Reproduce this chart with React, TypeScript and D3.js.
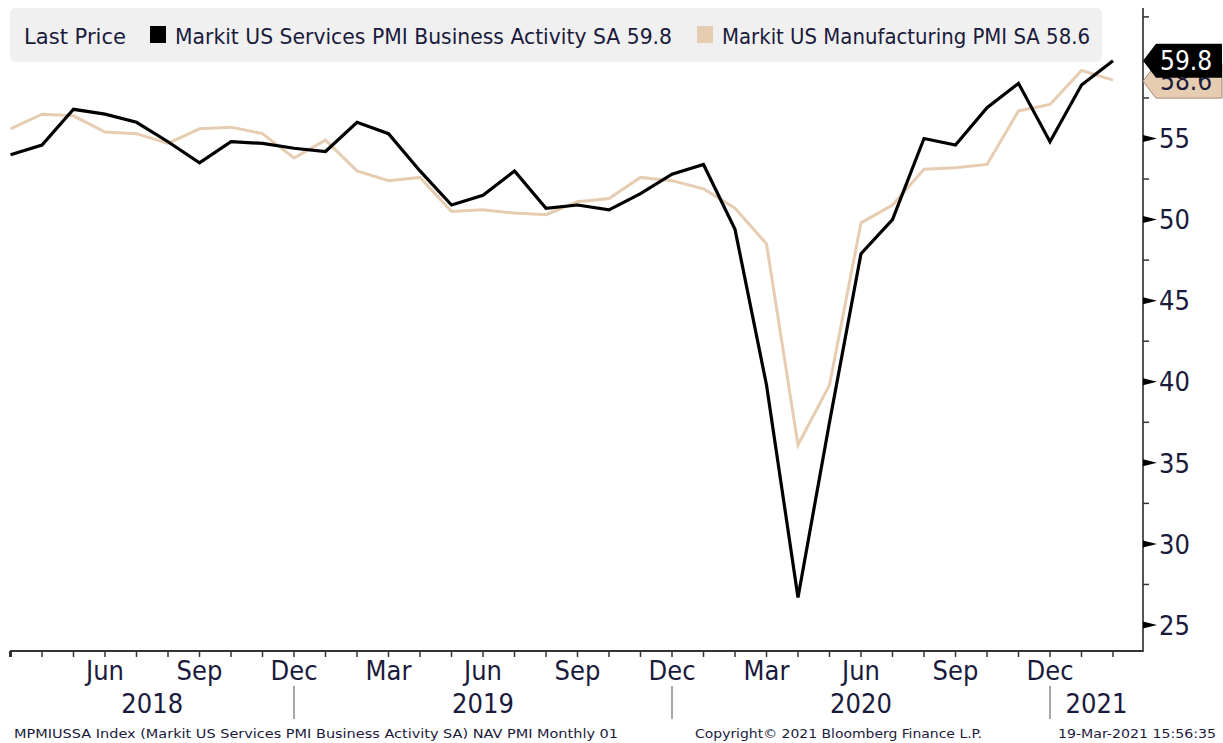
import React from "react";
import * as d3 from "d3";

const months = [
  "Mar 2018","Apr 2018","May 2018","Jun 2018","Jul 2018","Aug 2018","Sep 2018","Oct 2018","Nov 2018","Dec 2018",
  "Jan 2019","Feb 2019","Mar 2019","Apr 2019","May 2019","Jun 2019","Jul 2019","Aug 2019","Sep 2019","Oct 2019","Nov 2019","Dec 2019",
  "Jan 2020","Feb 2020","Mar 2020","Apr 2020","May 2020","Jun 2020","Jul 2020","Aug 2020","Sep 2020","Oct 2020","Nov 2020","Dec 2020",
  "Jan 2021","Feb 2021",
];

const services = [
  54.0, 54.6, 56.8, 56.5, 56.0, 54.8, 53.5, 54.8, 54.7, 54.4,
  54.2, 56.0, 55.3, 53.0, 50.9, 51.5, 53.0, 50.7, 50.9, 50.6, 51.6, 52.8,
  53.4, 49.4, 39.8, 26.7, 37.5, 47.9, 50.0, 55.0, 54.6, 56.9, 58.4, 54.8,
  58.3, 59.8,
];

const manufacturing = [
  55.6, 56.5, 56.4, 55.4, 55.3, 54.7, 55.6, 55.7, 55.3, 53.8,
  54.9, 53.0, 52.4, 52.6, 50.5, 50.6, 50.4, 50.3, 51.1, 51.3, 52.6, 52.4,
  51.9, 50.7, 48.5, 36.1, 39.8, 49.8, 50.9, 53.1, 53.2, 53.4, 56.7, 57.1,
  59.2, 58.6,
];

const yTicks = [25, 30, 35, 40, 45, 50, 55];
const yMinorTicks = [27.5, 32.5, 37.5, 42.5, 47.5, 52.5, 57.5, 62.5];
const monthLabels = [
  { idx: 3, label: "Jun" }, { idx: 6, label: "Sep" }, { idx: 9, label: "Dec" },
  { idx: 12, label: "Mar" }, { idx: 15, label: "Jun" }, { idx: 18, label: "Sep" }, { idx: 21, label: "Dec" },
  { idx: 24, label: "Mar" }, { idx: 27, label: "Jun" }, { idx: 30, label: "Sep" }, { idx: 33, label: "Dec" },
];
const yearLabels = [
  { from: 0, to: 9, label: "2018" },
  { from: 9, to: 21, label: "2019" },
  { from: 21, to: 33, label: "2020" },
  { from: 33, to: 36.9, label: "2021" },
];
const yearSeparators = [9, 21, 33];

const seriesNames = ["Markit US Services PMI Business Activity SA", "Markit US Manufacturing PMI SA"];

const BLACK = "#000000";
const TAN = "#e6cdb1";
const TEXT = "#1a1a3c";
const FONT = "'DejaVu Sans Condensed', 'Liberation Sans Narrow', 'Liberation Sans', sans-serif";

export default function App() {
  const W = 1223, H = 743;
  const axisX = 1143;
  const axisY = 651;
  const x = d3.scaleLinear().domain([0, 35]).range([10.5, 1113]);
  const y = d3.scaleLinear().domain([25, 55]).range([625, 138.5]);

  const line = d3.line<number>().x((_, i) => x(i)).y((d) => y(d));

  const lastS = services[services.length - 1];
  const lastM = manufacturing[manufacturing.length - 1];
  const tagS = y(lastS);
  const tagM = y(lastM) + 1;

  const tagPath = (cy: number, h: number) =>
    `M${axisX},${cy} L${axisX + 13},${cy - h} L${W - 1},${cy - h} L${W - 1},${cy + h} L${axisX + 13},${cy + h} Z`;

  const monthTicks = d3.range(0, 36);
  const fit = { lengthAdjust: "spacingAndGlyphs" as const };

  return (
    <svg width={W} height={H} style={{ position: "absolute", left: 0, top: 0, background: "#fff" }} fontFamily={FONT}>
      {/* legend */}
      <rect x={10} y={8} width={1092} height={54} rx={5} fill="#f0f0f0" />
      <text x={24} y={44} fontSize={21} fill={TEXT} textLength={102} {...fit}>Last Price</text>
      <rect x={150} y={26} width={16} height={17} fill={BLACK} />
      <text x={175} y={44} fontSize={21} fill={TEXT} textLength={497} {...fit}>{`${seriesNames[0]} ${lastS.toFixed(1)}`}</text>
      <rect x={697} y={26} width={16} height={17} fill={TAN} />
      <text x={722} y={44} fontSize={21} fill={TEXT} textLength={368} {...fit}>{`${seriesNames[1]} ${lastM.toFixed(1)}`}</text>

      {/* series */}
      <path d={line(manufacturing) || ""} fill="none" stroke={TAN} strokeWidth={3} strokeLinejoin="miter" />
      <path d={line(services) || ""} fill="none" stroke={BLACK} strokeWidth={3.2} strokeLinejoin="miter" />

      {/* right axis */}
      <line x1={axisX} x2={axisX} y1={8} y2={axisY + 1} stroke="#555" strokeWidth={2} />
      {yMinorTicks.map((t) => (
        <line key={t} x1={axisX} x2={axisX + 6} y1={y(t)} y2={y(t)} stroke="#333" strokeWidth={1.5} />
      ))}
      {yTicks.map((t) => (
        <g key={t}>
          <path d={`M${axisX},${y(t) - 3.5} L${axisX + 14},${y(t)} L${axisX},${y(t) + 3.5} Z`} fill="#000" />
          <text x={1159} y={y(t)} dy="0.36em" fontSize={27} fill={TEXT}>{t}</text>
        </g>
      ))}

      {/* bottom axis */}
      <line x1={10} x2={axisX} y1={axisY} y2={axisY} stroke="#333" strokeWidth={2} />
      {monthTicks.map((i) => (
        <line key={i} x1={x(i)} x2={x(i)} y1={axisY} y2={axisY + 6} stroke="#333" strokeWidth={i === 0 ? 3 : 1.5} />
      ))}
      {monthLabels.map((m) => (
        <text key={m.idx} x={x(m.idx)} y={680} textAnchor="middle" fontSize={27} fill={TEXT}>{m.label}</text>
      ))}
      {yearSeparators.map((i) => (
        <line key={i} x1={x(i)} x2={x(i)} y1={686} y2={719} stroke="#888" strokeWidth={1.5} />
      ))}
      {yearLabels.map((yl) => {
        const a = Math.max(x(yl.from), 10);
        const b = Math.min(x(yl.to), axisX);
        return (
          <text key={yl.label} x={(a + b) / 2} y={713} textAnchor="middle" fontSize={27} fill={TEXT}>{yl.label}</text>
        );
      })}

      {/* last value tags (overlapping, as in the reference) */}
      <path d={tagPath(tagM, 17)} fill={TAN} stroke="#a08a74" strokeWidth={1} />
      <text x={1160} y={tagM} dy="0.36em" fontSize={26} fill={TEXT}>{lastM.toFixed(1)}</text>
      <path d={tagPath(tagS, 17)} fill="#000" />
      <text x={1160} y={tagS} dy="0.36em" fontSize={26} fill="#fff">{lastS.toFixed(1)}</text>

      {/* footer */}
      <text x={14} y={738} fontSize={13} fill={TEXT} textLength={604} {...fit}>MPMIUSSA Index (Markit US Services PMI Business Activity SA) NAV PMI  Monthly 01</text>
      <text x={695} y={738} fontSize={13} fill={TEXT} textLength={287} {...fit}>Copyright© 2021 Bloomberg Finance L.P.</text>
      <text x={1058} y={738} fontSize={13} fill={TEXT} textLength={158} {...fit}>19-Mar-2021 15:56:35</text>
    </svg>
  );
}
